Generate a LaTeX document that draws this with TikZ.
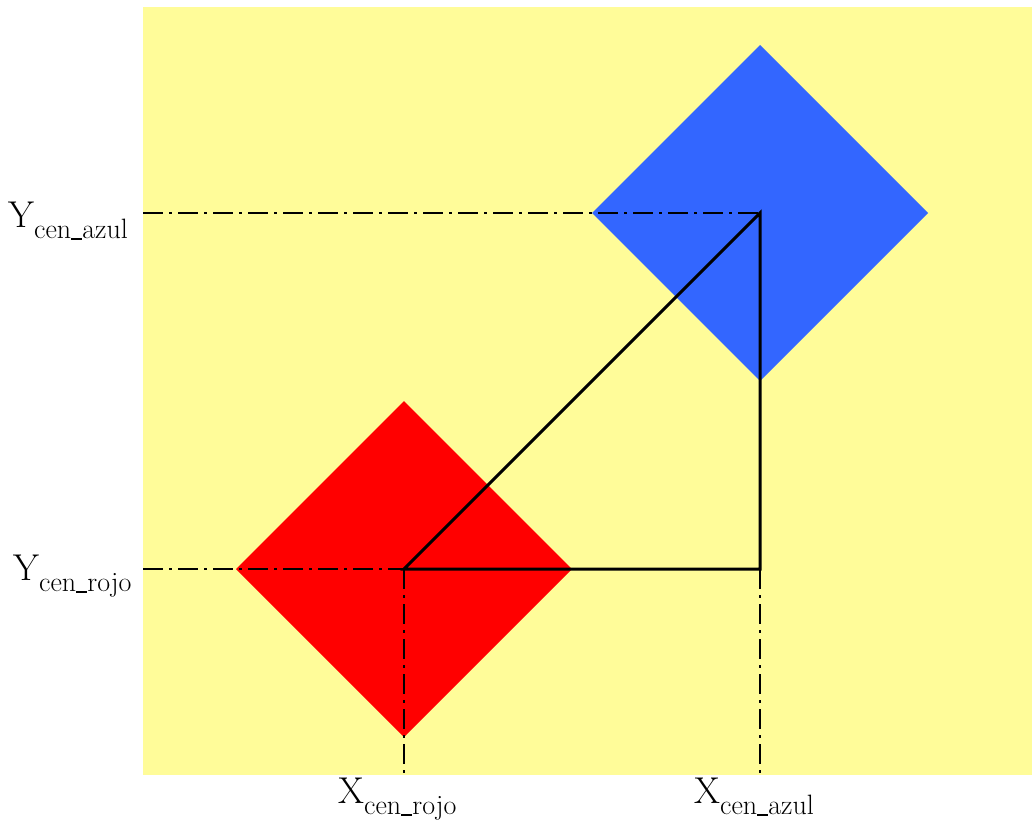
\documentclass[tikz,border=0pt]{standalone}
\usetikzlibrary{calc}
\definecolor{bgyellow}{RGB}{255,252,153}
\definecolor{diamblue}{RGB}{51,102,255}
\definecolor{diamred}{RGB}{255,0,0}
\newcommand{\myus}{\rule[-0.05em]{0.4em}{0.05em}}
\newcommand{\mysub}[1]{\raisebox{-0.3em}{\fontsize{21}{22}\selectfont #1}}
\tikzset{
  guide/.style={line width=1.5pt, dash pattern=on 15pt off 4.5pt on 2.25pt off 4.5pt},
  tri/.style={line width=2.25pt, line join=miter},
  lbl/.style={inner sep=0pt, font=\fontsize{28}{30}\selectfont}
}
\begin{document}
\begin{tikzpicture}[x=0.75pt,y=-0.75pt]
\useasboundingbox (0,0) rectangle (1032,822);
\fill[bgyellow] (143,7) rectangle (1032,775);
\coordinate (R) at (404,569);
\coordinate (B) at (760,213);
\coordinate (C) at (760,569);
\coordinate (yb) at (143,213);
\coordinate (yr) at (143,569);
\coordinate (xr) at (404,775);
\coordinate (xb) at (760,775);
% diamonds
\fill[diamred] (R) ++(0,-168) -- ++(168,168) -- ++(-168,168) -- ++(-168,-168) -- cycle;
\fill[diamblue] (B) ++(0,-168) -- ++(168,168) -- ++(-168,168) -- ++(-168,-168) -- cycle;
% guides
\draw[guide] (yb) -- (B);
\draw[guide] (yr) -- (R);
\draw[guide] (R) -- (xr);
\draw[guide] (C) -- (xb);
% triangle
\draw[tri] (R) -- (B) -- (C) -- cycle;
% labels
\node[lbl, anchor=base west] (lyb) at (8,227) {Y\mysub{cen\myus azul}};
\node[lbl, anchor=base west] (lyr) at (13,580) {Y\mysub{cen\myus rojo}};
\node[lbl, anchor=base west] (lxr) at (338,803) {X\mysub{cen\myus rojo}};
\node[lbl, anchor=base west] (lxb) at (694,803) {X\mysub{cen\myus azul}};
\end{tikzpicture}
\end{document}
